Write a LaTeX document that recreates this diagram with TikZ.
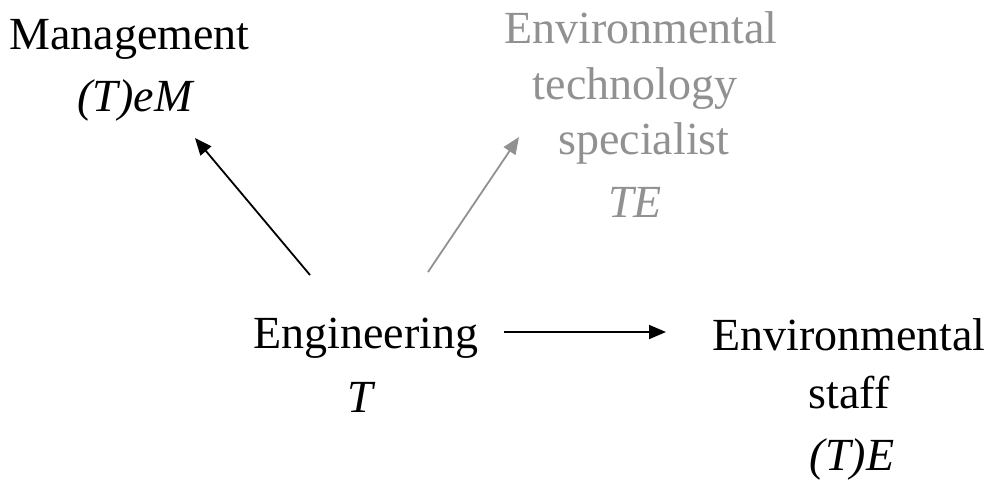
\documentclass[tikz,border=0pt]{standalone}
\usepackage{fontspec}
\setmainfont{Liberation Serif}
\usetikzlibrary{arrows.meta}
\definecolor{softgray}{RGB}{145,145,145}
\tikzset{
  lbl/.style={anchor=base, inner sep=0pt, font=\fontsize{46}{52}\selectfont},
  lblit/.style={lbl, font=\fontsize{46}{52}\selectfont\itshape},
  arr/.style={line width=1.8pt, -{Triangle[length=17pt,width=14pt]}},
}
\begin{document}
\begin{tikzpicture}[x=1pt,y=-1pt]
\useasboundingbox (0,0) rectangle (989,480);
% Management
\node[lbl] (mgmt) at (129.5,49) {Management};
\node[lblit] (mgmtsym) at (135,111) {(T)eM};
% Environmental technology specialist (gray)
\node[lbl, text=softgray] (ets1) at (641,43) {Environmental};
\node[lbl, text=softgray] (ets2) at (635,99) {technology};
\node[lbl, text=softgray] (ets3) at (644,154) {specialist};
\node[lblit, text=softgray] (etssym) at (635,217) {TE};
% Engineering
\node[lbl] (eng) at (366,348) {Engineering};
\node[lblit] (engsym) at (360,412) {T};
% Environmental staff
\node[lbl] (es1) at (849,350) {Environmental};
\node[lbl] (es2) at (849,408) {staff};
\node[lblit] (essym) at (852,470) {(T)E};
% connectors
\coordinate (a1s) at (310,275);
\coordinate (a1e) at (195,138);
\coordinate (a2s) at (428,272);
\coordinate (a2e) at (519,137);
\coordinate (a3s) at (504,332);
\coordinate (a3e) at (666,332);
\draw[arr] (a1s) -- (a1e);
\draw[arr, draw=softgray, fill=softgray] (a2s) -- (a2e);
\draw[arr] (a3s) -- (a3e);
\end{tikzpicture}
\end{document}
